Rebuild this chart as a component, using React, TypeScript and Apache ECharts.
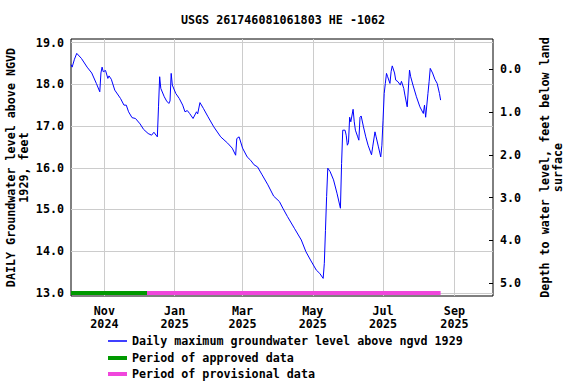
import React, { useEffect, useRef } from "react";
import * as echarts from "echarts";

const levelDates: string[] = [
  "2024-10-03", "2024-10-04", "2024-10-06", "2024-10-08", "2024-10-12", "2024-10-17", "2024-10-21",
  "2024-10-25", "2024-10-28", "2024-10-29", "2024-10-30", "2024-10-31", "2024-11-02", "2024-11-04",
  "2024-11-05", "2024-11-07", "2024-11-10", "2024-11-15", "2024-11-18", "2024-11-20", "2024-11-22",
  "2024-11-25", "2024-11-28", "2024-12-02", "2024-12-05", "2024-12-09", "2024-12-12", "2024-12-14",
  "2024-12-17", "2024-12-18", "2024-12-19", "2024-12-20", "2024-12-23", "2024-12-25", "2024-12-27",
  "2024-12-28", "2024-12-29", "2024-12-30", "2025-01-02", "2025-01-05", "2025-01-08", "2025-01-10",
  "2025-01-12", "2025-01-14", "2025-01-17", "2025-01-20", "2025-01-21", "2025-01-23", "2025-01-26",
  "2025-01-30", "2025-02-04", "2025-02-10", "2025-02-16", "2025-02-20", "2025-02-23", "2025-02-24",
  "2025-02-26", "2025-03-01", "2025-03-05", "2025-03-08", "2025-03-11", "2025-03-14", "2025-03-18",
  "2025-03-23", "2025-03-28", "2025-04-02", "2025-04-05", "2025-04-09", "2025-04-15", "2025-04-21",
  "2025-04-25", "2025-04-29", "2025-05-04", "2025-05-07", "2025-05-10", "2025-05-11", "2025-05-12",
  "2025-05-13", "2025-05-14", "2025-05-16", "2025-05-19", "2025-05-22", "2025-05-25", "2025-05-26",
  "2025-05-27", "2025-05-29", "2025-05-30", "2025-05-31", "2025-06-01", "2025-06-02", "2025-06-03",
  "2025-06-05", "2025-06-06", "2025-06-07", "2025-06-09", "2025-06-10", "2025-06-11", "2025-06-12",
  "2025-06-14", "2025-06-16", "2025-06-18", "2025-06-21", "2025-06-22", "2025-06-24", "2025-06-25",
  "2025-06-27", "2025-06-29", "2025-06-30", "2025-07-01", "2025-07-02", "2025-07-03", "2025-07-04",
  "2025-07-05", "2025-07-07", "2025-07-08", "2025-07-09", "2025-07-11", "2025-07-12", "2025-07-14",
  "2025-07-16", "2025-07-17", "2025-07-19", "2025-07-20", "2025-07-22", "2025-07-24", "2025-07-25",
  "2025-07-27", "2025-07-30", "2025-08-02", "2025-08-05", "2025-08-06", "2025-08-07", "2025-08-09",
  "2025-08-10", "2025-08-11", "2025-08-13", "2025-08-15", "2025-08-17", "2025-08-19", "2025-08-20",
];

const levelValues: number[] = [
  18.47, 18.41, 18.6, 18.74, 18.62, 18.41, 18.27,
  18.02, 17.82, 18.27, 18.41, 18.3, 18.33, 18.14,
  18.2, 18.12, 17.86, 17.66, 17.5, 17.5, 17.34,
  17.2, 17.18, 17.05, 16.92, 16.82, 16.78, 16.85,
  16.74, 17.46, 18.18, 17.9, 17.7, 17.6, 17.54,
  17.6, 18.26, 17.98, 17.78, 17.66, 17.5, 17.34,
  17.37, 17.3, 17.18, 17.34, 17.29, 17.56, 17.42,
  17.22, 16.98, 16.74, 16.59, 16.47, 16.3, 16.7,
  16.74, 16.47, 16.26, 16.18, 16.07, 16.02, 15.83,
  15.59, 15.32, 15.19, 15.03, 14.83, 14.55, 14.27,
  13.99, 13.79, 13.55, 13.47, 13.35, 13.71, 14.5,
  15.31, 15.99, 15.91, 15.71, 15.39, 15.03, 16.1,
  16.9, 16.9, 16.78, 16.54, 16.6, 17.21, 17.1,
  17.4, 17.1, 16.9, 16.74, 16.66, 17.21, 17.24,
  16.98, 16.74, 16.54, 16.31, 16.5, 16.86, 16.74,
  16.5, 16.26, 16.54, 17.14, 17.78, 18.02, 18.26,
  18.18, 18.02, 18.3, 18.44, 18.27, 18.1, 18.06,
  17.98, 18.07, 17.9, 17.74, 17.46, 18.34, 18.18,
  17.98, 17.7, 17.46, 17.3, 17.5, 17.21, 17.78,
  18.06, 18.38, 18.27, 18.12, 18.02, 17.78, 17.62,
];

const approvedPeriod: string[] = ["2024-10-03", "2024-12-08"];
const provisionalPeriod: string[] = ["2024-12-08", "2025-08-20"];
const periodLevel = 13.0;

const leftTicks: number[] = [13, 14, 15, 16, 17, 18, 19];
const rightTicks: number[] = [0, 1, 2, 3, 4, 5];
const monthTicks: string[] = ["2024-11-01", "2025-01-01", "2025-03-01", "2025-05-01", "2025-07-01", "2025-09-01"];
const monthNames: string[] = ["Jan", "Feb", "Mar", "Apr", "May", "Jun", "Jul", "Aug", "Sep", "Oct", "Nov", "Dec"];
const xRange: string[] = ["2024-10-03", "2025-10-04"];

const titleText = "USGS 261746081061803 HE -1062";
const leftAxisName = "DAILY Groundwater level above NGVD\n1929, feet";
const rightAxisName = "Depth to water level, feet below land\nsurface";
const levelName = "Daily maximum groundwater level above ngvd 1929";
const approvedName = "Period of approved data";
const provisionalName = "Period of provisional data";

const FONT = "DejaVu Sans Mono";

function toTime(s: string): number {
  const [y, m, d] = s.split("-").map(Number);
  return new Date(y, m - 1, d).getTime();
}

export default function App() {
  const ref = useRef<HTMLDivElement>(null);

  useEffect(() => {
    if (!ref.current) return;
    const chart = echarts.init(ref.current, undefined, { renderer: "svg" });
    const monthTickTimes = monthTicks.map(toTime);
    const labelStyle = { fontFamily: FONT, fontWeight: "bold", fontSize: 11.7, color: "#000" };

    const legendItem = (name: string, top: number, h: number) => ({
      data: [{ name, icon: "rect" }],
      orient: "vertical",
      left: 108,
      top,
      padding: 0,
      itemWidth: 19,
      itemHeight: h,
      itemGap: 5,
      textStyle: labelStyle,
      selectedMode: false,
    });

    const option: any = {
      animation: false,
      backgroundColor: "#ffffff",
      textStyle: { fontFamily: FONT },
      title: {
        text: titleText,
        left: 181,
        top: 14,
        padding: 0,
        textStyle: { ...labelStyle },
      },
      grid: {
        left: 71,
        right: 83,
        top: 39,
        bottom: 88,
        show: true,
        borderColor: "#000",
        borderWidth: 1,
        backgroundColor: "transparent",
        containLabel: false,
        outerBoundsMode: "none",
      },
      legend: [
        legendItem(levelName, 335, 1.5),
        legendItem(approvedName, 352, 4),
        legendItem(provisionalName, 368, 4),
      ],
      xAxis: {
        type: "value",
        min: toTime(xRange[0]),
        max: toTime(xRange[1]) + 12 * 3600 * 1000,
        axisLine: { show: false },
        axisTick: { show: false, customValues: monthTickTimes },
        axisLabel: {
          ...labelStyle,
          customValues: monthTickTimes,
          formatter: (v: number) => {
            const d = new Date(v);
            return monthNames[d.getMonth()] + "\n" + d.getFullYear();
          },
          lineHeight: 13,
          margin: 8,
          hideOverlap: false,
        },
        splitLine: { show: true, lineStyle: { color: "#cccccc", width: 1 } },
      },
      yAxis: [
        {
          type: "value",
          min: 12.928,
          max: 19.084,
          name: leftAxisName,
          nameLocation: "middle",
          nameRotate: 90,
          nameGap: 41,
          nameMoveOverlap: false,
          nameTextStyle: { ...labelStyle, lineHeight: 13 },
          axisLine: { show: false },
          axisTick: { show: false, customValues: leftTicks },
          axisLabel: {
            ...labelStyle,
            customValues: leftTicks,
            formatter: (v: number) => v.toFixed(1),
            margin: 7,
          },
          splitLine: { show: true, lineStyle: { color: "#cccccc", width: 1 } },
        },
        {
          type: "value",
          position: "right",
          inverse: true,
          min: -0.709,
          max: 5.304,
          name: rightAxisName,
          nameLocation: "middle",
          nameRotate: 90,
          nameGap: 45,
          nameMoveOverlap: false,
          nameTextStyle: { ...labelStyle, lineHeight: 13 },
          axisLine: { show: false },
          axisTick: { show: true, inside: true, length: 4, customValues: rightTicks, lineStyle: { color: "#000" } },
          axisLabel: {
            ...labelStyle,
            customValues: rightTicks,
            formatter: (v: number) => v.toFixed(1),
            margin: 7,
          },
          splitLine: { show: false },
        },
      ],
      series: [
        {
          name: levelName,
          type: "line",
          yAxisIndex: 0,
          data: levelDates.map((d, i) => [toTime(d), levelValues[i]]),
          showSymbol: false,
          symbol: "none",
          lineStyle: { color: "#0000ff", width: 1 },
          itemStyle: { color: "#0000ff" },
          z: 3,
        },
        {
          name: approvedName,
          type: "line",
          yAxisIndex: 0,
          data: approvedPeriod.map((d) => [toTime(d), periodLevel]),
          showSymbol: false,
          symbol: "none",
          lineStyle: { color: "#009900", width: 4 },
          itemStyle: { color: "#009900" },
          z: 4,
        },
        {
          name: provisionalName,
          type: "line",
          yAxisIndex: 0,
          data: provisionalPeriod.map((d) => [toTime(d), periodLevel]),
          showSymbol: false,
          symbol: "none",
          lineStyle: { color: "#f046dc", width: 4 },
          itemStyle: { color: "#f046dc" },
          z: 4,
        },
      ],
    };

    chart.setOption(option);
    return () => {
      chart.dispose();
    };
  }, []);

  return <div ref={ref} style={{ width: 576, height: 384, position: "absolute", left: 0, top: 0 }} />;
}
